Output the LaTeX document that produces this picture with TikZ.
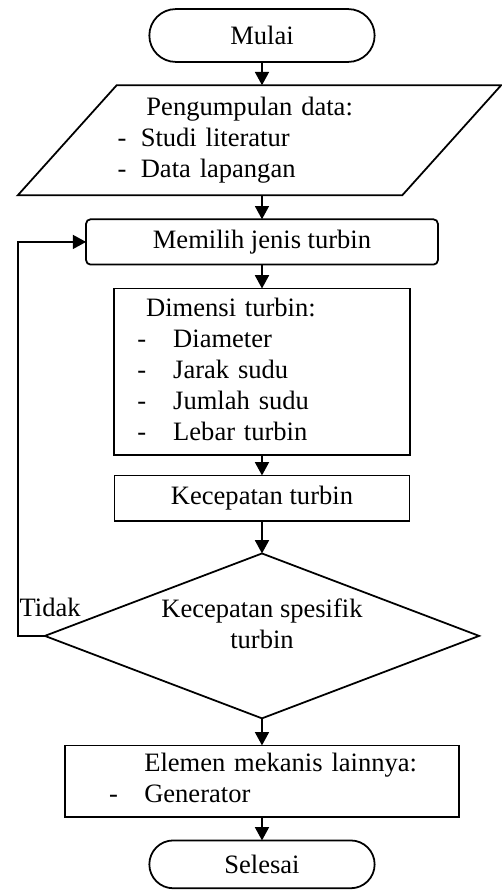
\documentclass[tikz,border=0pt]{standalone}
\usepackage{fontspec}
\setmainfont{Liberation Serif}
\usetikzlibrary{arrows.meta,positioning,shapes.geometric}

\begin{document}
\begin{tikzpicture}[
  node distance=0.38cm,
  line width=0.8pt,
  every node/.style={font=\fontsize{12}{14}\selectfont, outer sep=0pt},
  term/.style={rectangle, rounded corners=0.38cm, draw, minimum width=3.58cm, minimum height=0.76cm},
  proc/.style={rectangle, draw, minimum width=4.69cm, minimum height=0.73cm, align=center},
  io/.style={trapezium, trapezium left angle=48, trapezium right angle=132, draw, inner xsep=0pt, inner ysep=0.13cm, minimum height=1.75cm, text width=4.51cm, align=left},
  cond/.style={diamond, draw, shape aspect=2.63, minimum width=6.9cm, minimum height=2.62cm, inner sep=-5pt, align=center, text depth=11pt},
  ->/.style={-{Triangle[length=6pt, width=6.3pt]}},
]
  \useasboundingbox (-4.163cm,0.564cm) rectangle (3.798cm,-13.578cm);

  \node[term, minimum height=0.84cm, rounded corners=0.42cm] (mulai) {Mulai};
  \node[io, below=0.37cm of mulai, xshift=-0.04cm] (data) {\begin{tabular}{@{}l@{}}\hspace*{0.46cm}Pengumpulan data:\\\makebox[0.37cm][l]{-}Studi literatur\\\makebox[0.37cm][l]{-}Data lapangan\end{tabular}};
  \node[proc, rounded corners=2pt, minimum width=5.59cm, minimum height=0.72cm, below=of data, xshift=0.04cm] (choose) {Memilih jenis turbin};
  \node[proc, minimum height=2.65cm, inner xsep=0.37cm, inner ysep=0.09cm, text width=3.96cm, align=left, below=of choose] (dim) {\begin{tabular}{@{}l@{}}\hspace*{0.14cm}Dimensi turbin:\\\makebox[0.57cm][l]{-}Diameter\\\makebox[0.57cm][l]{-}Jarak sudu\\\makebox[0.57cm][l]{-}Jumlah sudu\\\makebox[0.57cm][l]{-}Lebar turbin\end{tabular}};
  \node[proc, below=0.32cm of dim] (speed) {Kecepatan turbin};
  \node[cond, below=0.51cm of speed] (dec) {Kecepatan spesifik\\turbin};
  \node[proc, minimum width=6.26cm, minimum height=1.14cm, inner xsep=0.7cm, inner ysep=0.07cm, text width=4.86cm, align=left, below=0.43cm of dec] (elem) {\begin{tabular}{@{}l@{}}\hspace*{0.56cm}Elemen mekanis lainnya:\\\makebox[0.56cm][l]{-}Generator\end{tabular}};
  \node[term, below=0.37cm of elem] (selesai) {Selesai};

  \draw[->] (mulai) -- (mulai |- data.north);
  \draw[->] (choose |- data.south) -- (choose);
  \draw[->] (choose) -- (dim);
  \draw[->] (dim) -- (speed);
  \draw[->] (speed) -- (dec);
  \draw[->] (dec) -- (elem);
  \draw[->] (elem) -- (selesai);
  \draw[->] (dec.west) -- ++(-0.43cm,0) node[above right, inner sep=0pt, xshift=0.03cm, yshift=0.3cm] {Tidak} |- (choose.west);
\end{tikzpicture}
\end{document}
